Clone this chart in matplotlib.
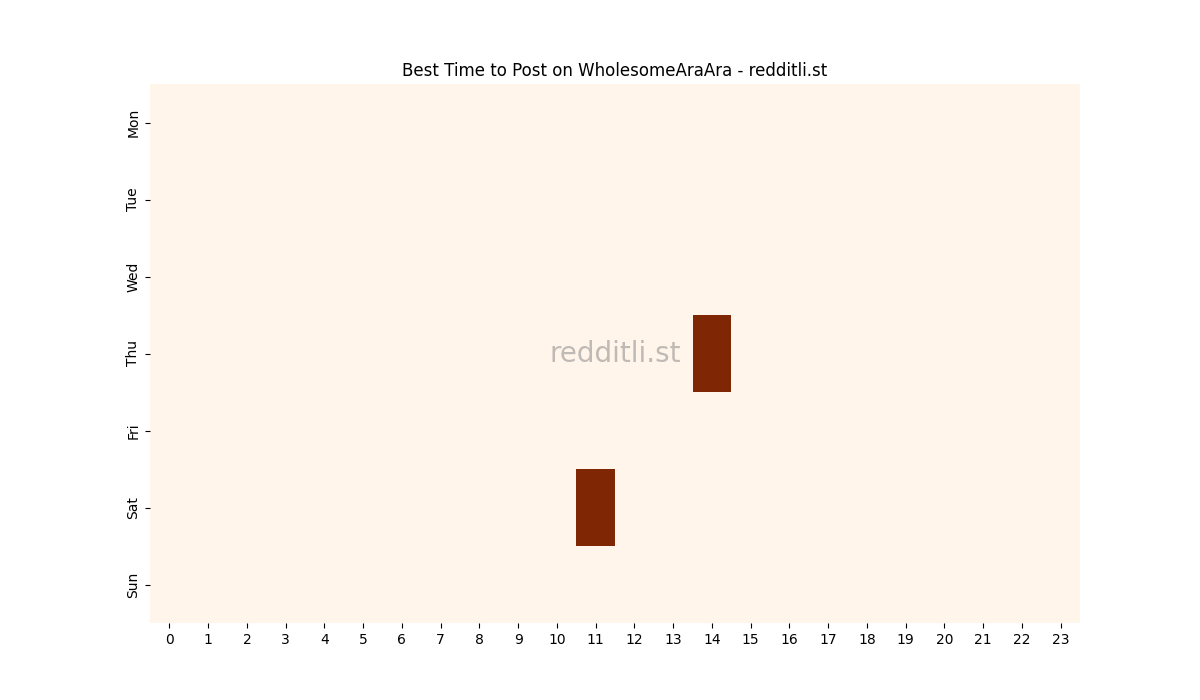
import matplotlib
matplotlib.use("Agg")
import matplotlib.pyplot as plt
import numpy as np
import seaborn as sns

days = ["Mon", "Tue", "Wed", "Thu", "Fri", "Sat", "Sun"]
hours = list(range(24))
# posts per (day, hour) cell; only two non-empty cells
hits = [("Thu", 14, 1), ("Sat", 11, 1)]

grid = np.zeros((len(days), len(hours)))
for d, h, v in hits:
    grid[days.index(d), h] = v

fig = plt.figure(figsize=(12, 7), dpi=100)
ax = sns.heatmap(grid, cmap="Oranges", cbar=False, xticklabels=hours, yticklabels=days)
ax.set_title("Best Time to Post on WholesomeAraAra - redditli.st")
ax.text(0.5, 0.5, "redditli.st", transform=ax.transAxes, fontsize=20,
        color="gray", alpha=0.5, ha="center", va="center")
plt.setp(ax.get_xticklabels(), rotation=0)
plt.setp(ax.get_yticklabels(), rotation=90, va="center")

plt.savefig("out.png")
